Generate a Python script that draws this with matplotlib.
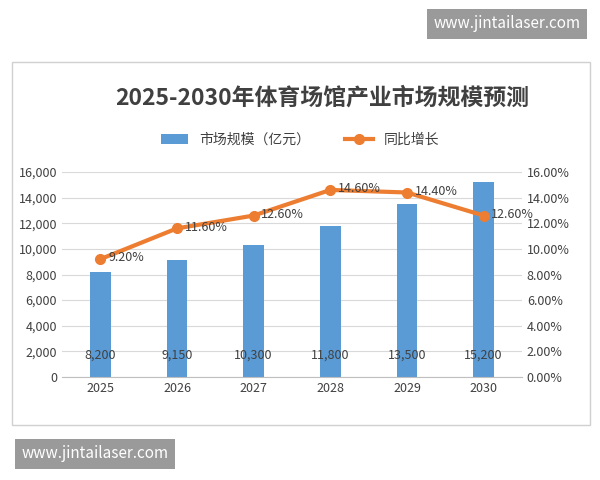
import matplotlib
matplotlib.use("Agg")
import matplotlib.pyplot as plt
from matplotlib.patches import Rectangle

plt.rcParams['font.family'] = ['Noto Sans CJK SC', 'DejaVu Sans']

years = ['2025', '2026', '2027', '2028', '2029', '2030']
scale = [8200, 9150, 10300, 11800, 13500, 15200]
growth = [9.20, 11.60, 12.60, 14.60, 14.40, 12.60]

fig = plt.figure(figsize=(6, 4.8), dpi=100)
fig.patches.append(Rectangle((12/600, 1-425/480), 578/600, 363/480, transform=fig.transFigure,
                             fill=False, edgecolor='#d0d0d0', lw=1))
ax = fig.add_axes([62/600, 1-377/480, 460/600, 205/480])
x = list(range(len(years)))
ax.bar(x, scale, width=0.27, color='#5B9BD5', label='市场规模（亿元）', zorder=2)
ax.set_ylim(0, 16000)
ax.set_yticks(range(0, 16001, 2000))
ax.set_yticklabels([f'{v:,}' for v in range(0, 16001, 2000)])
ax.set_xticks(x)
ax.set_xticklabels(years)
ax.set_xlim(-0.5, 5.5)
ax.grid(axis='y', color='#d9d9d9', lw=0.8, zorder=0)
for s in ['top', 'right', 'left']:
    ax.spines[s].set_visible(False)
ax.spines['bottom'].set_color('#bfbfbf')
ax.tick_params(length=0, labelsize=9, colors='#404040')
for xi, v in zip(x, scale):
    ax.text(xi, 1700, f'{v:,}', ha='center', va='center', fontsize=9, color='#404040')

ax2 = ax.twinx()
ax2.plot(x, growth, color='#ED7D31', lw=3, marker='o', ms=7, label='同比增长', zorder=3)
ax2.set_ylim(0, 16)
ax2.set_yticks(range(0, 17, 2))
ax2.set_yticklabels([f'{v:.2f}%' for v in range(0, 17, 2)])
for s in ['top', 'right', 'left', 'bottom']:
    ax2.spines[s].set_visible(False)
ax2.tick_params(length=0, labelsize=9, colors='#404040')
for xi, v in zip(x, growth):
    ax2.text(xi + 0.1, v + 0.1, f'{v:.2f}%', ha='left', va='center', fontsize=9, color='#404040')

fig.text(322/600, 1-98/480, '2025-2030年体育场馆产业市场规模预测', ha='center', va='center',
         fontsize=16.5, fontweight='bold', color='#404040')
h1, l1 = ax.get_legend_handles_labels()
h2, l2 = ax2.get_legend_handles_labels()
fig.legend(h1 + h2, l1 + l2, loc='center', bbox_to_anchor=(300/600, 1-140/480), ncol=2,
           frameon=False, fontsize=10, labelcolor='#404040', columnspacing=2.5)

fig.text(507/600, 1-24/480, 'www.jintailaser.com', ha='center', va='center', fontsize=11, color='white',
         bbox=dict(boxstyle='square,pad=0.45', fc='#9a9a9a', ec='none'))
fig.text(95/600, 1-454/480, 'www.jintailaser.com', ha='center', va='center', fontsize=11, color='white',
         bbox=dict(boxstyle='square,pad=0.45', fc='#9a9a9a', ec='none'))
fig.savefig('out.png', dpi=100)
